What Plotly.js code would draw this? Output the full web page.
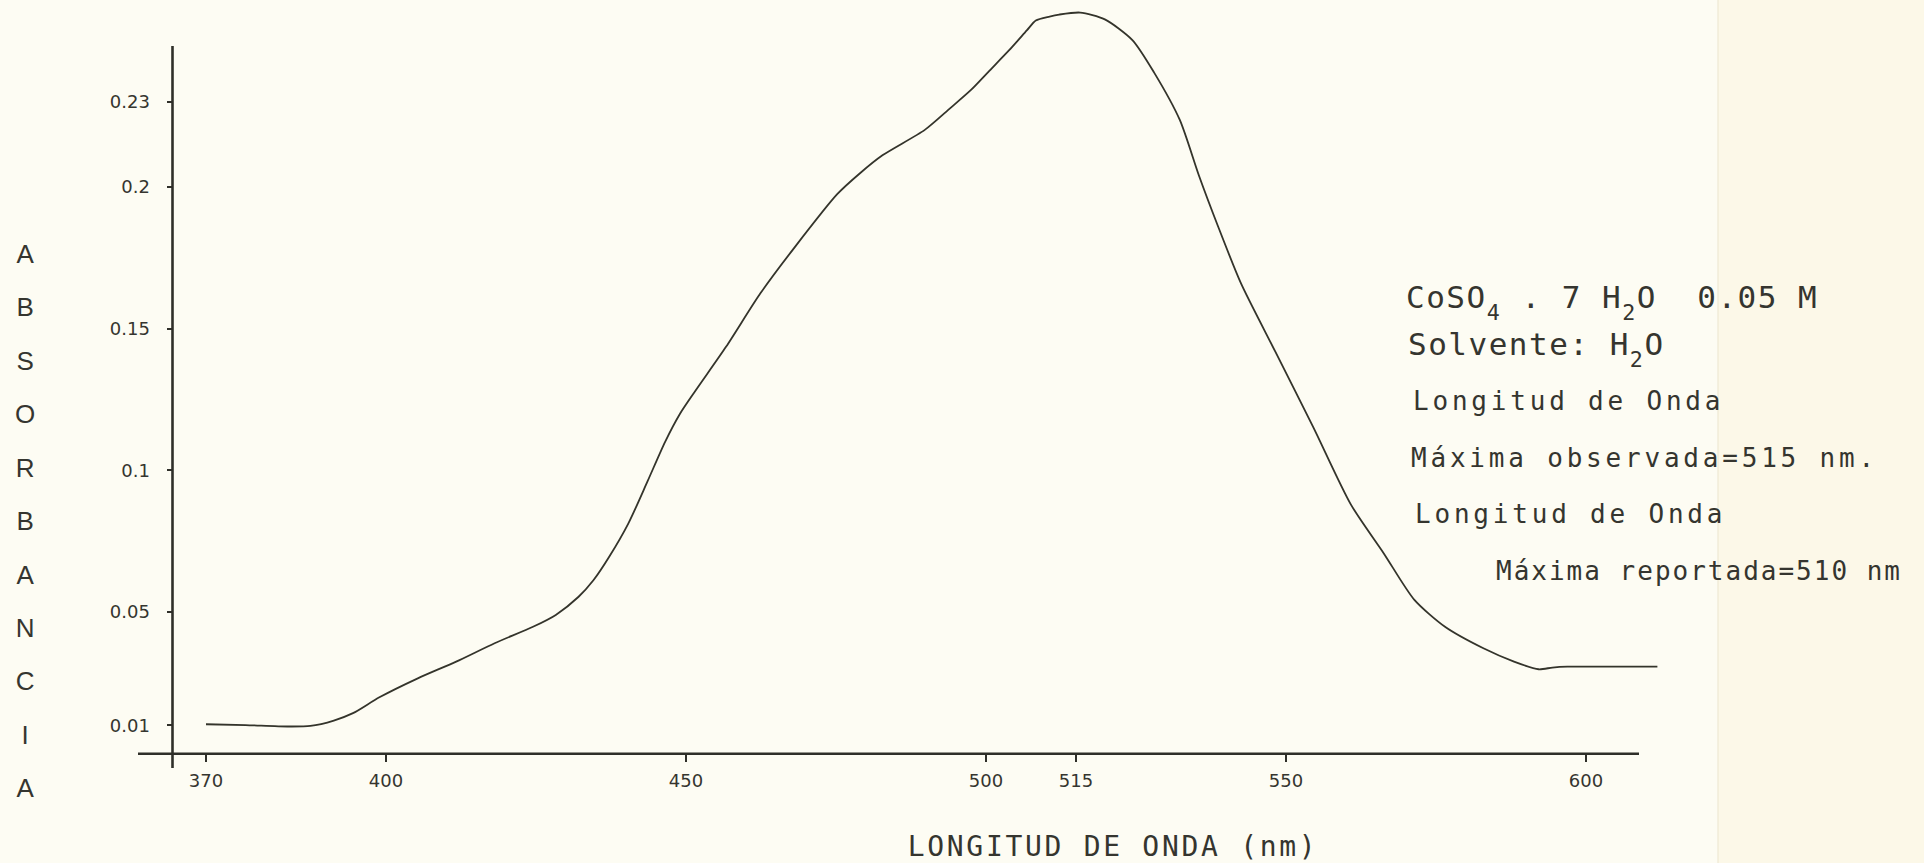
<!DOCTYPE html>
<html>
<head>
<meta charset="utf-8">
<script src="https://cdn.plot.ly/plotly-3.0.1.min.js"></script>
<style>
  html, body { margin: 0; padding: 0; background: #fdfcf3; }
  #chart { width: 1924px; height: 863px; }
  /* typewriter spacing for the axis title and the note block */
  .annotation[data-index="0"] text { letter-spacing: 2.7px; }
  .annotation[data-index="2"] text,
  .annotation[data-index="3"] text { letter-spacing: 1.5px; }
  .annotation[data-index="4"] text,
  .annotation[data-index="5"] text,
  .annotation[data-index="6"] text { letter-spacing: 3.8px; }
  .annotation[data-index="7"] text { letter-spacing: 2.0px; }
</style>
</head>
<body>
<div id="chart"></div>
<script>
// Absorption spectrum of CoSO4 . 7 H2O 0.05 M in water
const wavelength = [370, 376.6, 383.6, 387.4, 391.3, 394.5, 398.9, 405.3, 411.7, 418.1,
  424.5, 428.3, 432.1, 434.6, 437.2, 440.4, 443.6, 446.5, 449.0, 451.6,
  456.7, 462.4, 468.2, 475.2, 479.0, 482.8, 489.8, 494.0, 497.5, 500.4,
  503.9, 506.8, 508.3, 510.6, 512.2, 515.7, 519.8, 524.4, 528.0, 532.3,
  535.5, 538.7, 542.5, 548.2, 554.6, 560.8, 566.3, 571.4, 576.5, 582.9,
  588.0, 592.1, 594.4, 596.9, 602.6, 611.9];
const absorbance = [0.0104, 0.0101, 0.0096, 0.0098, 0.0117, 0.0143, 0.0199, 0.0266, 0.0325, 0.0390,
  0.0448, 0.0490, 0.0554, 0.0613, 0.0695, 0.0813, 0.0962, 0.1100, 0.1200, 0.1282,
  0.1437, 0.1625, 0.1790, 0.1975, 0.2049, 0.2113, 0.2202, 0.2278, 0.2343, 0.2407,
  0.2484, 0.2553, 0.2588, 0.2602, 0.2609, 0.2616, 0.2592, 0.2519, 0.2405, 0.2237,
  0.2040, 0.1860, 0.1660, 0.1420, 0.1150, 0.0880, 0.0707, 0.0543, 0.0448, 0.0372,
  0.0325, 0.0298, 0.0304, 0.0307, 0.0307, 0.0307];

const xTickVals = [370, 400, 450, 500, 515, 550, 600];
const xTickText = ['370', '400', '450', '500', '515', '550', '600'];
const yTickVals = [0.01, 0.05, 0.1, 0.15, 0.2, 0.23];
const yTickText = ['0.01', '0.05', '0.1', '0.15', '0.2', '0.23'];

const xTitle = 'LONGITUD DE ONDA (nm)';
const yTitleLetters = ['A', 'B', 'S', 'O', 'R', 'B', 'A', 'N', 'C', 'I', 'A'];

const SUB = (d) => '<span style="font-size:70%;baseline-shift:-0.55em">' + d + '</span>';
const noteLines = [
  'CoSO' + SUB('4') + ' . 7 H' + SUB('2') + 'O\u00a0\u00a00.05 M',
  'Solvente: H' + SUB('2') + 'O',
  'Longitud de Onda',
  'Máxima observada=515 nm.',
  'Longitud de Onda',
  'Máxima reportada=510 nm'
];

// plot frame in pixels (used to place free axes and text)
const W = 1924, H = 863;
const M = { l: 138, r: 254, t: 4, b: 95 };
const PW = W - M.l - M.r, PH = H - M.t - M.b;
const px = (x) => (x - M.l) / PW;        // page x -> paper fraction
const py = (y) => (H - M.b - y) / PH;    // page y -> paper fraction

const ink = '#2f2f29';
const textInk = '#35352f';
const mono = 'DejaVu Sans Mono';

const trace = {
  x: wavelength,
  y: absorbance,
  type: 'scatter',
  mode: 'lines',
  line: { color: '#34342b', width: 1.8, shape: 'spline', smoothing: 0.7 },
  hoverinfo: 'x+y'
};

const notePos = [
  { x: 1405, y: 302, size: 31 },
  { x: 1407, y: 349, size: 31 },
  { x: 1412, y: 401, size: 26 },
  { x: 1410, y: 458, size: 26 },
  { x: 1414, y: 514, size: 26 },
  { x: 1495, y: 571, size: 26 }
];

const annotations = [
  {
    text: xTitle, xref: 'paper', yref: 'paper',
    x: px(1113), y: py(846), xanchor: 'center', yanchor: 'middle',
    showarrow: false, font: { family: mono, size: 28, color: textInk }
  },
  {
    text: yTitleLetters.map(c => '<span style="font-size:26px">' + c + '</span>').join('<br>'),
    xref: 'paper', yref: 'paper',
    x: px(25), y: py(521), xanchor: 'center', yanchor: 'middle',
    showarrow: false, font: { family: 'Liberation Sans', size: 41.1, color: textInk }
  }
].concat(noteLines.map((t, i) => ({
  text: t, xref: 'paper', yref: 'paper', align: 'left', borderpad: 0,
  x: px(notePos[i].x), y: py(notePos[i].y), xanchor: 'left', yanchor: 'middle',
  showarrow: false, font: { family: mono, size: notePos[i].size, color: textInk }
})));

const shapes = [
  // slightly warmer paper strip on the right and its fold
  { type: 'rect', xref: 'paper', yref: 'paper', x0: px(1718), x1: px(W), y0: py(H), y1: py(0),
    fillcolor: '#fcf8e8', line: { width: 0 }, layer: 'below' },
  { type: 'line', xref: 'paper', yref: 'paper', x0: px(1718), x1: px(1718), y0: py(H), y1: py(0),
    line: { color: '#ebe5cd', width: 1 }, layer: 'below' },
  // wavelength axis along zero absorbance
  { type: 'line', xref: 'paper', yref: 'y', x0: 0, x1: px(1639), y0: 0, y1: 0,
    line: { color: ink, width: 2.6 } },
  // absorbance axis
  { type: 'line', xref: 'paper', yref: 'paper', x0: px(172.5), x1: px(172.5), y0: 0, y1: py(46),
    line: { color: ink, width: 2.6 } }
];

const layout = {
  width: W, height: H,
  margin: { l: M.l, r: M.r, t: M.t, b: M.b, pad: 0 },
  paper_bgcolor: '#fdfcf3',
  plot_bgcolor: 'rgba(0,0,0,0)',
  showlegend: false,
  xaxis: {
    range: [358.667, 614], anchor: 'free', position: py(753.7),
    showline: false, showgrid: false, zeroline: false,
    tickmode: 'array', tickvals: xTickVals, ticktext: xTickText,
    ticks: 'outside', ticklen: 7, tickwidth: 2, tickcolor: ink,
    ticklabelstandoff: 4,
    tickfont: { family: 'DejaVu Sans', size: 18, color: textInk },
    fixedrange: true
  },
  yaxis: {
    range: [-0.00505, 0.26463], anchor: 'free', position: px(172.5),
    showline: false, showgrid: false, zeroline: false,
    tickmode: 'array', tickvals: yTickVals, ticktext: yTickText,
    ticks: 'outside', ticklen: 6, tickwidth: 2, tickcolor: ink,
    ticklabelstandoff: 13,
    tickfont: { family: 'DejaVu Sans', size: 18, color: textInk },
    fixedrange: true
  },
  shapes: shapes,
  annotations: annotations
};

Plotly.newPlot('chart', [trace], layout, { displayModeBar: false, staticPlot: true });
</script>
</body>
</html>
